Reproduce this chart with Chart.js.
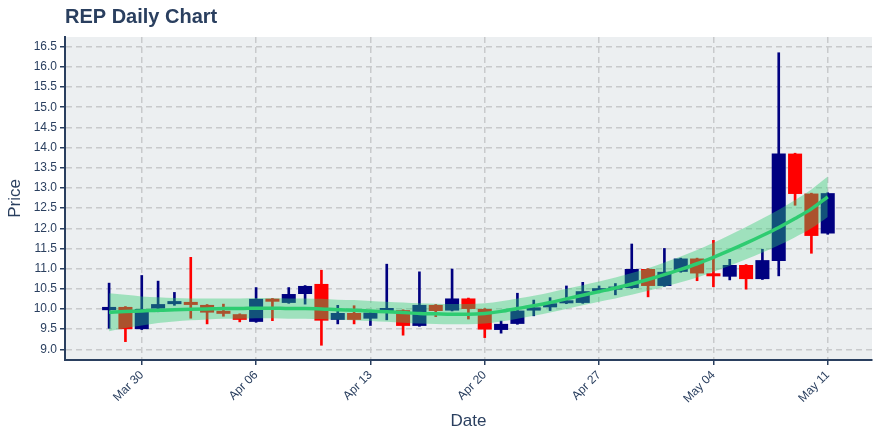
<!DOCTYPE html>
<html>
<head>
<meta charset="utf-8">
<script src="https://cdn.jsdelivr.net/npm/chart.js@4.4.1/dist/chart.umd.min.js"></script>
<style>
  html, body { margin: 0; padding: 0; background: #fff; }
  #wrap { width: 880px; height: 440px; }
</style>
</head>
<body>
<div id="wrap"><canvas id="chart"></canvas></div>
<script>
const dates = [
  'Mar 28', 'Mar 29', 'Mar 30', 'Mar 31',
  'Apr 01', 'Apr 02', 'Apr 03', 'Apr 04', 'Apr 05', 'Apr 06', 'Apr 07', 'Apr 08', 'Apr 09', 'Apr 10',
  'Apr 11', 'Apr 12', 'Apr 13', 'Apr 14', 'Apr 15', 'Apr 16', 'Apr 17', 'Apr 18', 'Apr 19', 'Apr 20',
  'Apr 21', 'Apr 22', 'Apr 23', 'Apr 24', 'Apr 25', 'Apr 26', 'Apr 27', 'Apr 28', 'Apr 29', 'Apr 30',
  'May 01', 'May 02', 'May 03', 'May 04', 'May 05', 'May 06', 'May 07', 'May 08', 'May 09', 'May 10', 'May 11'
]
const opens = [
  9.97, 10.05, 9.50, 10.01, 10.12, 10.17, 10.10, 9.91, 9.87, 9.68, 10.25, 10.15, 10.37, 10.62,
  9.73, 9.90, 9.76, 9.95, 9.97, 9.58, 10.10, 9.96, 10.26, 10.00, 9.48, 9.63, 9.96, 10.04, 10.14,
  10.15, 10.44, 10.48, 10.52, 10.99, 10.57, 10.92, 11.25, 10.86, 10.80, 11.09, 10.74, 11.19, 13.85, 12.86, 11.87
]
const highs = [
  10.64, 10.06, 10.83, 10.69, 10.41, 11.28, 10.11, 10.12, 9.88, 10.53, 10.26, 10.53, 10.58, 10.96,
  10.09, 10.08, 9.92, 11.11, 9.98, 10.92, 10.11, 10.99, 10.27, 10.01, 9.70, 10.39, 10.22, 10.28, 10.57,
  10.66, 10.57, 10.63, 11.61, 11.00, 11.50, 11.26, 11.26, 11.70, 11.23, 11.10, 11.48, 16.35, 13.86, 12.87, 12.88
]
const lows = [
  9.52, 9.19, 9.49, 9.93, 10.09, 9.77, 9.63, 9.82, 9.68, 9.67, 9.71, 10.14, 10.12, 9.10,
  9.63, 9.63, 9.59, 9.73, 9.35, 9.57, 9.81, 9.95, 9.75, 9.29, 9.40, 9.62, 9.83, 9.96, 10.13,
  10.14, 10.40, 10.35, 10.51, 10.30, 10.56, 10.91, 10.70, 10.55, 10.72, 10.49, 10.73, 10.82, 12.57, 11.38, 11.85
]
const closes = [
  10.05, 9.50, 10.00, 10.12, 10.17, 10.10, 9.91, 9.88, 9.73, 10.25, 10.18, 10.37, 10.57, 9.71,
  9.90, 9.73, 9.91, 9.98, 9.58, 10.10, 9.95, 10.26, 10.00, 9.49, 9.63, 9.96, 10.04, 10.14, 10.18,
  10.44, 10.48, 10.52, 10.99, 10.57, 10.92, 11.25, 10.88, 10.81, 11.09, 10.74, 11.21, 13.85, 12.85, 11.81, 12.87
]
const trend = [
  9.92, 9.94, 9.95, 9.97, 9.98, 9.99, 10.00, 10.01, 10.01, 10.02, 10.02, 10.01, 10.01, 10.00,
  9.98, 9.97, 9.95, 9.93, 9.91, 9.89, 9.88, 9.87, 9.87, 9.89, 9.94, 10.01, 10.08, 10.16, 10.25,
  10.34, 10.43, 10.52, 10.62, 10.73, 10.85, 10.98, 11.12, 11.28, 11.45, 11.63, 11.82, 12.02, 12.24, 12.48, 12.78
]
const upper = [
  10.39, 10.35, 10.31, 10.29, 10.27, 10.26, 10.26, 10.26, 10.26, 10.27, 10.27, 10.26, 10.26, 10.25,
  10.23, 10.22, 10.20, 10.18, 10.16, 10.14, 10.13, 10.12, 10.12, 10.14, 10.19, 10.26, 10.33, 10.41, 10.50,
  10.59, 10.68, 10.78, 10.89, 11.01, 11.15, 11.30, 11.46, 11.64, 11.83, 12.03, 12.24, 12.46, 12.70, 12.96, 13.28
]
const lower = [
  9.45, 9.53, 9.59, 9.65, 9.69, 9.72, 9.74, 9.76, 9.76, 9.77, 9.77, 9.76, 9.76, 9.75,
  9.73, 9.72, 9.70, 9.68, 9.66, 9.64, 9.63, 9.62, 9.62, 9.64, 9.69, 9.76, 9.83, 9.91, 10.00,
  10.09, 10.18, 10.26, 10.35, 10.45, 10.55, 10.66, 10.78, 10.92, 11.07, 11.23, 11.40, 11.58, 11.78, 12.00, 12.28
]
const xTickLabels = ['Mar 30', 'Apr 06', 'Apr 13', 'Apr 20', 'Apr 27', 'May 04', 'May 11']
const yTicks = [9.0, 9.5, 10.0, 10.5, 11.0, 11.5, 12.0, 12.5, 13.0, 13.5, 14.0, 14.5, 15.0, 15.5, 16.0, 16.5]

const UP = '#000080'
const DOWN = '#ff0000'
const TEXT = '#2a3f5f'
const candleColor = (c) => closes[c.dataIndex] >= opens[c.dataIndex] ? UP : DOWN

Chart.defaults.font.family = '"Liberation Sans", Arial, sans-serif'
Chart.defaults.color = TEXT

const plotBg = {
  id: 'plotBg',
  beforeDraw(chart) {
    const { ctx, chartArea: a } = chart
    ctx.save()
    ctx.fillStyle = '#eceff1'
    ctx.fillRect(a.left, a.top, a.right - a.left, a.bottom - a.top)
    ctx.restore()
  },
  afterDraw(chart) {
    const { ctx, chartArea: a } = chart
    ctx.save()
    ctx.fillStyle = TEXT
    ctx.font = 'bold 20px "Liberation Sans", Arial, sans-serif'
    ctx.textBaseline = 'alphabetic'
    ctx.fillText('REP Daily Chart', a.left, 23)
    ctx.restore()
  }
}

new Chart(document.getElementById('chart'), {
  type: 'bar',
  data: {
    datasets: [
      {
        type: 'line',
        data: trend.map((v, i) => ({ x: i, y: v })),
        borderColor: '#2ecc71',
        borderWidth: 3.5,
        pointRadius: 0,
        cubicInterpolationMode: 'monotone',
        fill: false,
        order: 0
      },
      {
        type: 'line',
        data: upper.map((v, i) => ({ x: i, y: v })),
        borderWidth: 0,
        borderColor: 'rgba(0,0,0,0)',
        backgroundColor: 'rgba(46,204,113,0.4)',
        pointRadius: 0,
        cubicInterpolationMode: 'monotone',
        fill: '+1',
        order: 1
      },
      {
        type: 'line',
        data: lower.map((v, i) => ({ x: i, y: v })),
        borderWidth: 0,
        borderColor: 'rgba(0,0,0,0)',
        pointRadius: 0,
        cubicInterpolationMode: 'monotone',
        fill: false,
        order: 2
      },
      {
        data: opens.map((o, i) => ({ x: i, y: [o, closes[i]] })),
        backgroundColor: candleColor,
        grouped: false,
        categoryPercentage: 1,
        barPercentage: 0.86,
        minBarLength: 3,
        borderSkipped: false,
        order: 3
      },
      {
        data: lows.map((l, i) => ({ x: i, y: [l, highs[i]] })),
        backgroundColor: candleColor,
        grouped: false,
        barThickness: 2,
        borderSkipped: false,
        order: 4
      }
    ]
  },
  plugins: [plotBg],
  options: {
    responsive: true,
    maintainAspectRatio: false,
    animation: false,
    layout: { padding: { top: 37, right: 8, bottom: 0, left: 0 } },
    plugins: {
      legend: { display: false },
      tooltip: { enabled: false }
    },
    scales: {
      x: {
        type: 'linear',
        min: -2.70,
        max: 46.71,
        offset: false,
        grid: { color: '#c8cacc', lineWidth: 1.5, offset: false, tickLength: 5, tickColor: TEXT, tickWidth: 1.5 },
        border: { display: true, color: TEXT, width: 2, dash: [6, 4] },
        afterBuildTicks: (s) => { s.ticks = xTickLabels.map(l => ({ value: dates.indexOf(l) })) },
        afterFit: (s) => { s.height = 80 },
        ticks: {
          autoSkip: false,
          minRotation: 45,
          maxRotation: 45,
          padding: 3,
          font: { size: 12 },
          callback: (v) => dates[v]
        },
        title: { display: true, text: 'Date', font: { size: 17 }, padding: { top: 4, bottom: 8 } }
      },
      y: {
        min: 8.735,
        max: 16.74,
        beginAtZero: false,
        grid: { color: '#c8cacc', lineWidth: 1.5, tickLength: 5, tickColor: TEXT, tickWidth: 1.5 },
        border: { display: true, color: TEXT, width: 2, dash: [6, 4] },
        afterBuildTicks: (s) => { s.ticks = yTicks.map(v => ({ value: v })) },
        afterFit: (s) => { s.width = 65 },
        ticks: {
          padding: 3,
          font: { size: 12 },
          callback: (v) => Number(v).toFixed(1)
        },
        title: { display: true, text: 'Price', font: { size: 17 }, padding: { top: 5, bottom: 4 } }
      }
    }
  }
})
</script>
</body>
</html>
